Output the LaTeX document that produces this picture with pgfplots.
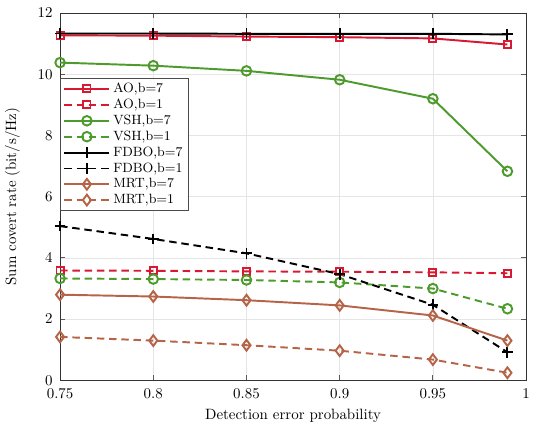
\documentclass[border=0pt]{standalone}
\usepackage{pgfplots}
\pgfplotsset{compat=1.18}
\definecolor{cred}{RGB}{215,25,50}
\definecolor{cgreen}{RGB}{77,155,45}
\definecolor{cbrown}{RGB}{181,100,72}
\begin{document}
\begin{tikzpicture}
\begin{axis}[
  scale only axis,
  width=312pt, height=246pt,
  xmin=0.75, xmax=1, ymin=0, ymax=12,
  xtick={0.75,0.8,0.85,0.9,0.95,1},
  ytick={0,2,4,6,8,10,12},
  xticklabels={0.75,0.8,0.85,0.9,0.95,1},
  xticklabel style={yshift=-2pt},
  yticklabel style={xshift=-1.5pt},
  grid=major,
  major grid style={gray!20, line width=0.5pt},
  tick align=inside,
  tick style={gray!70!black, line width=0.6pt},
  axis line style={black!80, line width=0.6pt},
  major tick length=3.5pt,
  xlabel={Detection error probability},
  ylabel={Sum covert rate (bit/s/Hz)},
  xlabel style={yshift=0pt},
  ylabel style={yshift=5pt},
  legend style={at={(axis cs:0.75,9.88)}, anchor=north west, draw=black!70, line width=0.6pt, fill=white, inner xsep=2pt, inner ysep=1pt, row sep=-1.2pt, font=\small},
  legend cell align=left,
  legend image code/.code={\draw[mark repeat=2,mark phase=2] plot coordinates {(0pt,0pt)(15pt,0pt)(30pt,0pt)};},
  every axis plot/.append style={line width=1.3pt},
  mydash/.style={dash pattern=on 5pt off 3.2pt},
]
\addplot[cred, mark=square, mark size=2.4pt, mark options={solid, fill=white}] coordinates {(0.75,11.27)(0.8,11.26)(0.85,11.23)(0.9,11.21)(0.95,11.17)(0.99,10.97)};
\addlegendentry{AO,b=7}
\addplot[cred, mydash, mark=square, mark size=2.4pt, mark options={solid, fill=white}] coordinates {(0.75,3.59)(0.8,3.58)(0.85,3.56)(0.9,3.55)(0.95,3.53)(0.99,3.5)};
\addlegendentry{AO,b=1}
\addplot[cgreen, mark=o, mark size=3.2pt, mark options={solid, fill=white}] coordinates {(0.75,10.38)(0.8,10.28)(0.85,10.11)(0.9,9.82)(0.95,9.2)(0.99,6.83)};
\addlegendentry{VSH,b=7}
\addplot[cgreen, mydash, mark=o, mark size=3.2pt, mark options={solid, fill=white}] coordinates {(0.75,3.33)(0.8,3.31)(0.85,3.28)(0.9,3.2)(0.95,3.0)(0.99,2.34)};
\addlegendentry{VSH,b=1}
\addplot[black, mark=+, mark size=3.6pt, mark options={solid}] coordinates {(0.75,11.33)(0.8,11.33)(0.85,11.32)(0.9,11.32)(0.95,11.32)(0.99,11.3)};
\addlegendentry{FDBO,b=7}
\addplot[black, mydash, mark=+, mark size=3.6pt, mark options={solid}] coordinates {(0.75,5.04)(0.8,4.62)(0.85,4.15)(0.9,3.47)(0.95,2.47)(0.99,0.92)};
\addlegendentry{FDBO,b=1}
\addplot[cbrown, mark=diamond, mark size=3.6pt, mark options={solid, fill=white}] coordinates {(0.75,2.8)(0.8,2.74)(0.85,2.62)(0.9,2.45)(0.95,2.12)(0.99,1.3)};
\addlegendentry{MRT,b=7}
\addplot[cbrown, mydash, mark=diamond, mark size=3.6pt, mark options={solid, fill=white}] coordinates {(0.75,1.42)(0.8,1.3)(0.85,1.15)(0.9,0.97)(0.95,0.68)(0.99,0.25)};
\addlegendentry{MRT,b=1}
\end{axis}
\path ([shift={(-38.7pt,-32pt)}]current axis.south west) rectangle ([shift={(12pt,8.7pt)}]current axis.north east);
\end{tikzpicture}
\end{document}
